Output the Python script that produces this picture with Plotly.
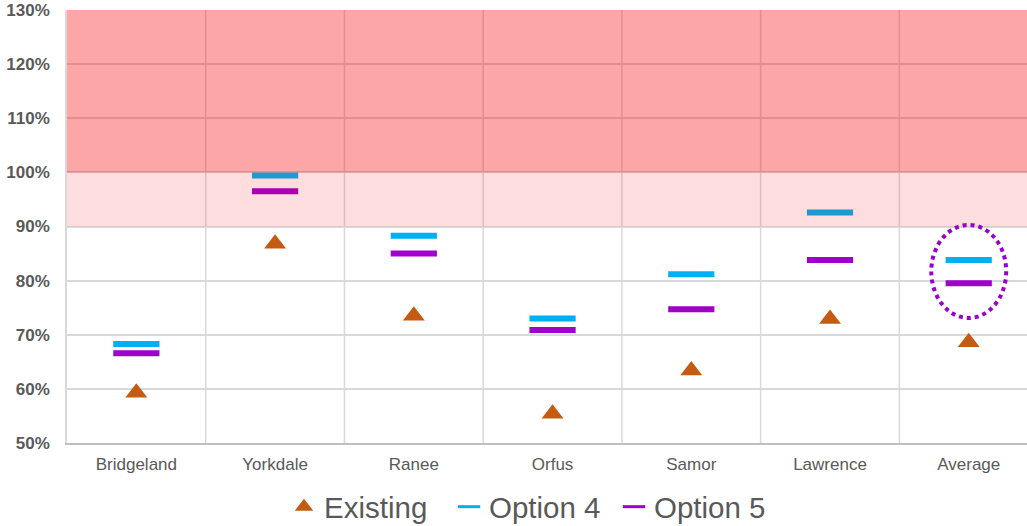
import plotly.graph_objects as go

categories = ["Bridgeland", "Yorkdale", "Ranee", "Orfus", "Samor", "Lawrence", "Average"]
existing = [59.3, 86.8, 73.5, 55.4, 63.4, 72.9, 68.6]
option4 = [68.3, 99.4, 88.3, 73.0, 81.2, 92.6, 83.8]
option5 = [66.6, 96.5, 85.0, 70.9, 74.7, 83.8, 79.5]
y_ticks = [50, 60, 70, 80, 90, 100, 110, 120, 130]
warn_band = (90, 100)
over_band = (100, 130)
highlight_range = (73.1, 90.3)

FONT = "Liberation Sans, Arial, sans-serif"
C_EXIST = "#C55A11"
C_OPT4 = "#00B0F0"
C_OPT5 = "#A000CC"
x = list(range(len(categories)))

fig = go.Figure()
fig.add_trace(go.Scatter(
    x=x, y=existing, mode="markers", name="Existing", showlegend=False,
    marker=dict(symbol="triangle-up", size=19, color=C_EXIST, line=dict(width=0))))
fig.add_trace(go.Scatter(
    x=x, y=option4, mode="markers", name="Option 4", showlegend=False,
    marker=dict(symbol="line-ew", size=33, color=C_OPT4, line=dict(width=6, color=C_OPT4))))
fig.add_trace(go.Scatter(
    x=x, y=option5, mode="markers", name="Option 5", showlegend=False,
    marker=dict(symbol="line-ew", size=33, color=C_OPT5, line=dict(width=6, color=C_OPT5))))

# legend entries (smaller symbols, as in the original legend)
fig.add_trace(go.Scatter(x=[None], y=[None], mode="markers", name="Existing",
                         marker=dict(symbol="triangle-up", size=16, color=C_EXIST, line=dict(width=0))))
fig.add_trace(go.Scatter(x=[None], y=[None], mode="markers", name="Option 4",
                         marker=dict(symbol="line-ew", size=17, color=C_OPT4, line=dict(width=3, color=C_OPT4))))
fig.add_trace(go.Scatter(x=[None], y=[None], mode="markers", name="Option 5",
                         marker=dict(symbol="line-ew", size=17, color=C_OPT5, line=dict(width=3, color=C_OPT5))))

shapes = []
for i in range(len(categories)):
    shapes.append(dict(type="line", xref="x", yref="paper", x0=i + 0.5, x1=i + 0.5,
                       y0=0, y1=1, line=dict(color="#D9D9D9", width=1.5), layer="below"))
shapes.append(dict(type="rect", xref="paper", yref="y", x0=0, x1=1,
                   y0=over_band[0], y1=over_band[1],
                   fillcolor="rgba(245,0,5,0.35)", line=dict(width=0), layer="above"))
shapes.append(dict(type="rect", xref="paper", yref="y", x0=0, x1=1,
                   y0=warn_band[0], y1=warn_band[1],
                   fillcolor="rgba(240,0,5,0.135)", line=dict(width=0), layer="above"))
avg_i = categories.index("Average")
shapes.append(dict(type="circle", xref="x", yref="y", x0=avg_i - 0.27, x1=avg_i + 0.27,
                   y0=highlight_range[0], y1=highlight_range[1],
                   line=dict(color="#9900CC", width=4, dash="dot"), layer="above"))

fig.update_layout(
    width=1027, height=526,
    margin=dict(l=67, r=0, t=10, b=83, autoexpand=False),
    paper_bgcolor="white", plot_bgcolor="white",
    shapes=shapes,
    showlegend=True,
    legend=dict(orientation="h", xref="container", yref="container",
                x=284 / 1027, xanchor="left", y=19 / 526, yanchor="middle",
                font=dict(family=FONT, size=29.5, color="#595959"),
                itemwidth=30, entrywidth=120, tracegroupgap=0,
                bgcolor="rgba(0,0,0,0)"),
    xaxis=dict(range=[-0.5, 6.42], tickvals=x, ticktext=categories,
               showgrid=False, zeroline=False,
               showline=True, linecolor="#BFBFBF", linewidth=2,
               ticks="outside", ticklen=5, tickcolor="rgba(0,0,0,0)",
               tickfont=dict(family=FONT, size=17, color="#595959")),
    yaxis=dict(range=[50, 130], tickvals=y_ticks, ticktext=[f"{v}%" for v in y_ticks],
               showgrid=True, gridcolor="#D9D9D9", gridwidth=1.5, zeroline=False,
               showline=True, linecolor="#D9D9D9", linewidth=1.5,
               ticks="outside", ticklen=12, tickcolor="rgba(0,0,0,0)",
               tickfont=dict(family=FONT, size=17, color="#595959", weight="bold")),
)

fig.write_html("out.html")
